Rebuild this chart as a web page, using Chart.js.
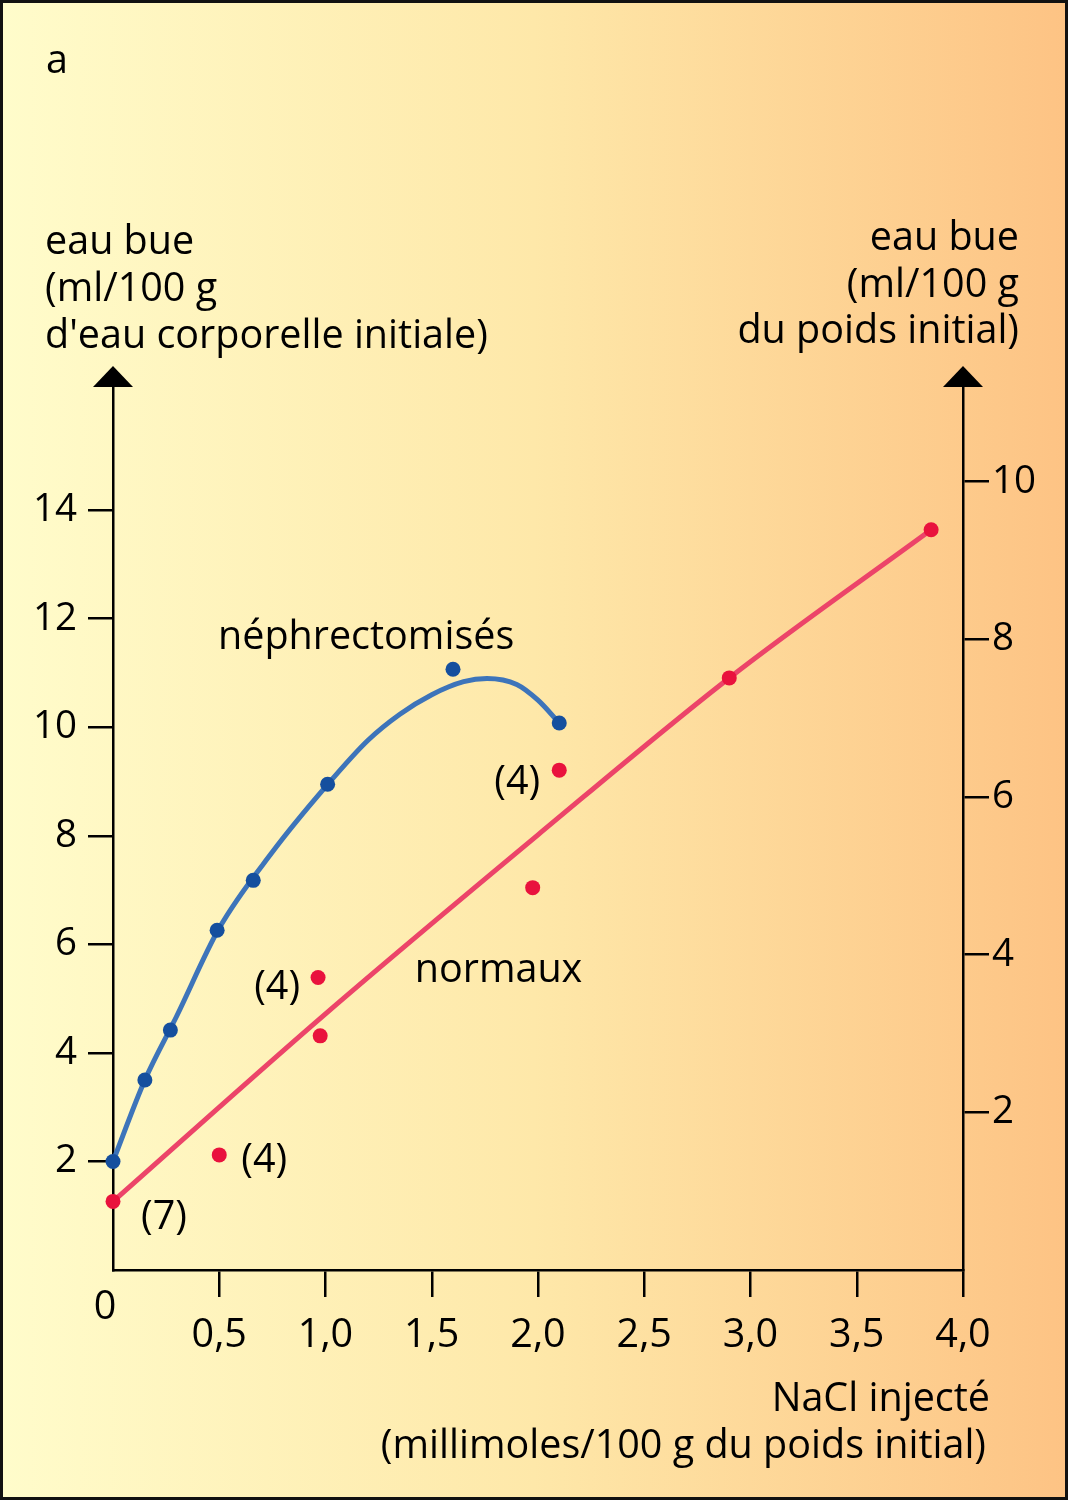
<!DOCTYPE html>
<html><head><meta charset="utf-8">
<script src="https://cdn.jsdelivr.net/npm/chart.js@4/dist/chart.umd.min.js"></script>
<style>html,body{margin:0;padding:0;background:#fff}canvas{display:block}</style>
</head><body>
<canvas id="c" width="1068" height="1500"></canvas>
<script>
// ---- data ----
const nephrX = [0, 0.15, 0.27, 0.49, 0.66, 1.01, 1.60, 2.10];
const nephrY = [2.0, 3.5, 4.42, 6.26, 7.18, 8.95, 11.07, 10.08];
// drawn fitted curve
const nephrCurveX = [0, 0.15, 0.30, 0.50, 0.75, 1.0, 1.20, 1.35, 1.50, 1.65, 1.76, 1.90, 2.0, 2.10];
const nephrCurveY = [2.0, 3.5, 4.68, 6.3, 7.7, 8.9, 9.76, 10.24, 10.6, 10.84, 10.9, 10.79, 10.5, 10.08];
const normX = [0, 0.50, 0.965, 0.975, 1.975, 2.10, 2.90, 3.85];
const normY = [0.87, 1.46, 3.71, 2.97, 4.85, 6.34, 7.51, 9.39];
const normCurveX = [0, 1.0, 2.0, 2.90, 3.85];
const normCurveY = [0.87, 3.25, 5.52, 7.51, 9.39];
const xTickValues = [0.5, 1.0, 1.5, 2.0, 2.5, 3.0, 3.5, 4.0];
const xTickLabels = ['0,5', '1,0', '1,5', '2,0', '2,5', '3,0', '3,5', '4,0'];
const yLeftTicks = [2, 4, 6, 8, 10, 12, 14];
const yRightTicks = [2, 4, 6, 8, 10];
const leftTitle = ['eau bue', '(ml/100 g', "d'eau corporelle initiale)"];
const rightTitle = ['eau bue', '(ml/100 g', 'du poids initial)'];
const xTitle = ['NaCl injecté', '(millimoles/100 g du poids initial)'];
const panelLetter = 'a';
const seriesNames = ['néphrectomisés', 'normaux'];
const countLabels = ['(7)', '(4)', '(4)', '(4)'];
const countPointIndex = [0, 1, 2, 5]; // which "normaux" points they annotate

const FONT = "'Open Sans', 'Noto Sans', sans-serif";
const FS = 39.5;
const TFS = 38.5;
const toPts = (xs, ys) => xs.map((x, i) => ({x: x, y: ys[i]}));

const decor = {
  id: 'decor',
  beforeDraw(chart) {
    const ctx = chart.ctx, W = chart.width, H = chart.height;
    const g = ctx.createLinearGradient(0, 0, W, 0);
    g.addColorStop(0, '#fffccb');
    g.addColorStop(0.5, '#fee8a9');
    g.addColorStop(1, '#fdc384');
    ctx.save(); ctx.fillStyle = g; ctx.fillRect(0, 0, W, H); ctx.restore();
  },
  afterDraw(chart) {
    const ctx = chart.ctx, W = chart.width, H = chart.height, a = chart.chartArea;
    const sx = chart.scales.x, yl = chart.scales.yL, yr = chart.scales.yR;
    ctx.save();
    // arrows
    ctx.fillStyle = '#000';
    [a.left, a.right].forEach(px => {
      ctx.beginPath();
      ctx.moveTo(px, a.top - 21);
      ctx.lineTo(px - 20, a.top);
      ctx.lineTo(px + 20, a.top);
      ctx.closePath(); ctx.fill();
    });
    ctx.font = FS + 'px ' + FONT;
    ctx.textBaseline = 'alphabetic';
    // panel letter
    ctx.textAlign = 'left';
    ctx.fillText(panelLetter, 46, 73);
    // left title
    const lb = [254, 301, 348];
    leftTitle.forEach((t, i) => ctx.fillText(t, 45, lb[i]));
    // right title
    ctx.textAlign = 'right';
    const rb = [250, 297, 343];
    rightTitle.forEach((t, i) => ctx.fillText(t, 1019, rb[i]));
    // x title
    ctx.fillText(xTitle[0], 990, 1411);
    ctx.fillText(xTitle[1], 986, 1458);
    // zero at origin
    ctx.textAlign = 'center'; ctx.textBaseline = 'middle';
    ctx.fillText('0', sx.getPixelForValue(0) - 8, a.bottom + 38);
    // series names
    ctx.textAlign = 'left'; ctx.textBaseline = 'alphabetic';
    ctx.fillText(seriesNames[0], sx.getPixelForValue(0.494), yl.getPixelForValue(11.44));
    ctx.fillText(seriesNames[1], sx.getPixelForValue(1.42), yl.getPixelForValue(5.31));
    // count labels next to points
    const offs = [[28, 16, 'left'], [22, 6, 'left'], [-18, 10, 'right'], [-19, 13, 'right']];
    ctx.textBaseline = 'middle';
    countLabels.forEach((t, i) => {
      const k = countPointIndex[i];
      const px = sx.getPixelForValue(normX[k]), py = yr.getPixelForValue(normY[k]);
      ctx.textAlign = offs[i][2];
      ctx.fillText(t, px + offs[i][0], py + offs[i][1]);
    });
    // frame
    ctx.strokeStyle = '#111'; ctx.lineWidth = 3;
    ctx.strokeRect(1.5, 1.5, W - 3, H - 3);
    ctx.restore();
  }
};

const axisCommon = (tickLen) => ({
  grid: {drawOnChartArea: false, drawTicks: true, tickLength: tickLen, color: '#000', tickColor: '#000', lineWidth: 2.5, tickWidth: 2.5},
  border: {display: true, color: '#000', width: 2.5},
});

new Chart(document.getElementById('c'), {
  type: 'scatter',
  data: {
    datasets: [
      {label: 'néphrectomisés courbe', data: toPts(nephrCurveX, nephrCurveY), yAxisID: 'yL', showLine: true,
       borderColor: '#3d74ba', borderWidth: 5, pointRadius: 0, cubicInterpolationMode: 'monotone', clip: false, order: 3},
      {label: 'normaux courbe', data: toPts(normCurveX, normCurveY), yAxisID: 'yR', showLine: true,
       borderColor: '#ec4469', borderWidth: 5, pointRadius: 0, cubicInterpolationMode: 'monotone', clip: false, order: 3},
      {label: 'néphrectomisés', data: toPts(nephrX, nephrY), yAxisID: 'yL', showLine: false,
       backgroundColor: '#154f9e', borderWidth: 0, pointRadius: 7.5, clip: false, order: 1},
      {label: 'normaux', data: toPts(normX, normY), yAxisID: 'yR', showLine: false,
       backgroundColor: '#e9123d', borderWidth: 0, pointRadius: 7.5, clip: false, order: 1}
    ]
  },
  options: {
    responsive: false, animation: false, devicePixelRatio: 1,
    layout: {padding: {top: 387, left: 0, right: 0, bottom: 0}},
    plugins: {legend: {display: false}, tooltip: {enabled: false}},
    scales: {
      x: Object.assign(axisCommon(27), {
        type: 'linear', position: 'bottom', min: 0, max: 4,
        afterBuildTicks: s => { s.ticks = xTickValues.map(v => ({value: v})); },
        afterFit: s => { s.height = 230; },
        ticks: {color: '#000', font: {family: FONT, size: FS}, padding: 15, maxRotation: 0, autoSkip: false,
                callback: (v) => { const i = xTickValues.indexOf(v); return i >= 0 ? xTickLabels[i] : ''; }}
      }),
      yL: Object.assign(axisCommon(25), {
        type: 'linear', position: 'left', min: 0, max: 16.27,
        afterBuildTicks: s => { s.ticks = yLeftTicks.map(v => ({value: v})); },
        afterFit: s => { s.width = 113; },
        ticks: {color: '#000', font: {family: FONT, size: TFS}, padding: 11, autoSkip: false}
      }),
      yR: Object.assign(axisCommon(26), {
        type: 'linear', position: 'right', min: 0, max: 11.2,
        afterBuildTicks: s => { s.ticks = yRightTicks.map(v => ({value: v})); },
        afterFit: s => { s.width = 105; },
        ticks: {color: '#000', font: {family: FONT, size: TFS}, padding: 3, autoSkip: false}
      })
    }
  },
  plugins: [decor]
});
</script>
</body></html>
